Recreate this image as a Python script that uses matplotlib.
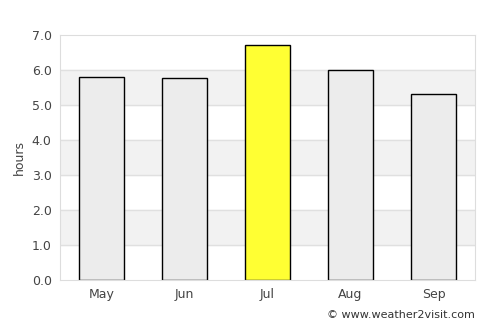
import matplotlib.pyplot as plt

# datos
meses = ['May', 'Jun', 'Jul', 'Aug', 'Sep']
horas = [5.81, 5.79, 6.72, 6.02, 5.31]
colores = ['#ececec', '#ececec', '#ffff33', '#ececec', '#ececec']
yticks = [0, 1, 2, 3, 4, 5, 6, 7]

fig = plt.figure(figsize=(5, 3.25), dpi=100)
ax = fig.add_axes([0.12, 0.1385, 0.83, 0.7525])

# franjas alternas del fondo
for y0 in [1, 3, 5]:
    ax.axhspan(y0, y0 + 1, color='#f2f2f2', zorder=0)
for y in yticks[1:-1]:
    ax.axhline(y, color='#e0e0e0', lw=1, zorder=1)

ax.bar(range(len(meses)), horas, width=0.54, color=colores,
       edgecolor='black', linewidth=1, zorder=2)

ax.set_xlim(-0.5, len(meses) - 0.5)
ax.set_ylim(0, 7)
ax.set_yticks(yticks)
ax.set_yticklabels([f'{v:.1f}' for v in yticks])
ax.set_xticks(range(len(meses)))
ax.set_xticklabels(meses)
ax.tick_params(length=0, labelsize=9, colors='#444444', pad=6)
ax.set_ylabel('hours', fontsize=9, color='#444444', labelpad=4)

for s in ax.spines.values():
    s.set_color('#dddddd')

fig.text(0.95, 0.015, '© www.weather2visit.com', ha='right', va='bottom',
         fontsize=8, color='#333333')

fig.savefig('out.png', dpi=100)
